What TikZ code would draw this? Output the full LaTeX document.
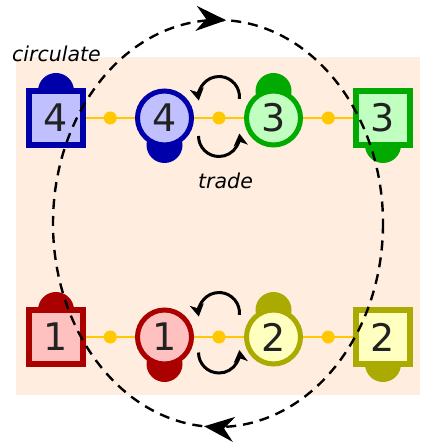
\documentclass[tikz,border=0pt]{standalone}
\usepackage{fontspec}
\setmainfont{DejaVu Sans}
\usetikzlibrary{arrows.meta,decorations.markings,calc}
\definecolor{bgpeach}{HTML}{FFEEDF}
\definecolor{blueb}{HTML}{0000AA}
\definecolor{bluef}{HTML}{C0C0FF}
\definecolor{greenb}{HTML}{00AA00}
\definecolor{greenf}{HTML}{C0FFC0}
\definecolor{redb}{HTML}{AA0000}
\definecolor{redf}{HTML}{FFC0C0}
\definecolor{oliveb}{HTML}{AAAA00}
\definecolor{olivef}{HTML}{FFFFC0}
\definecolor{linegold}{HTML}{FFC800}
\definecolor{digit}{HTML}{222222}
\pgfdeclarelayer{bglayer}
\pgfdeclarelayer{midlayer}
\pgfsetlayers{bglayer,midlayer,main}
\begin{document}
\begin{tikzpicture}[x=1pt,y=1pt,
  sq/.style 2 args={rectangle, draw=#1, fill=#2, line width=6pt, minimum size=54pt, inner sep=0pt,
    font=\fontsize{38}{38}\selectfont, text=digit},
  ci/.style 2 args={circle, draw=#1, fill=#2, line width=5pt, minimum size=54pt, inner sep=0pt,
    font=\fontsize{38}{38}\selectfont, text=digit},
  bump/.style={circle, fill=#1, draw=none, minimum size=36pt, inner sep=0pt},
  dotnode/.style={circle, fill=linegold, draw=none, minimum size=13pt, inner sep=0pt},
  yline/.style={draw=linegold, line width=2.5pt},
  tradearrow/.style={line width=3pt, -{Stealth[length=12pt,width=14pt,inset=3.5pt]}},
  lbl/.style={font=\fontsize{20.5}{20.5}\selectfont\itshape, inner sep=0pt, text=black},
  bigtip/.style={decoration={markings,
      mark=at position 0.262 with {\pgfsetdash{}{0pt}\arrow{Stealth[length=30pt,width=25pt,inset=10pt]}},
      mark=at position 0.757 with {\pgfsetdash{}{0pt}\arrow{Stealth[length=30pt,width=25pt,inset=10pt]}}},
      postaction={decorate}},
  loopline/.style={line width=2.4pt, dash pattern=on 10pt off 7pt}
]
\useasboundingbox (0,0) rectangle (420,-443);
\begin{pgfonlayer}{bglayer}
  \fill[bgpeach] (16,-57) rectangle (420,-395);
\end{pgfonlayer}

% top row
\node[sq={blueb}{bluef}] (s4) at (56,-118) {4};
\node[ci={blueb}{bluef}] (c4) at (164.5,-118) {4};
\node[ci={greenb}{greenf}] (c3) at (273.5,-118) {3};
\node[sq={greenb}{greenf}] (s3) at (383,-118) {3};
% bottom row
\node[sq={redb}{redf}] (s1) at (56,-337) {1};
\node[ci={redb}{redf}] (c1) at (164.5,-337) {1};
\node[ci={oliveb}{olivef}] (c2) at (273.5,-337) {2};
\node[sq={oliveb}{olivef}] (s2) at (383,-337) {2};

\begin{pgfonlayer}{midlayer}
  \node[bump=blueb]  (bs4) at ($(s4)+(0,27)$) {};
  \node[bump=blueb]  (bc4) at ($(c4)+(0,-27)$) {};
  \node[bump=greenb] (bc3) at ($(c3)+(0,27)$) {};
  \node[bump=greenb] (bs3) at ($(s3)+(0,-27)$) {};
  \node[bump=redb]   (bs1) at ($(s1)+(0,27)$) {};
  \node[bump=redb]   (bc1) at ($(c1)+(0,-27)$) {};
  \node[bump=oliveb] (bc2) at ($(c2)+(0,27)$) {};
  \node[bump=oliveb] (bs2) at ($(s2)+(0,-27)$) {};
  \draw[yline] (s4) -- (c4) -- (c3) -- (s3);
  \draw[yline] (s1) -- (c1) -- (c2) -- (s2);
\end{pgfonlayer}

\node[dotnode] (d1) at ($(s4)!0.5!(c4)$) {};
\node[dotnode] (d2) at ($(c4)!0.5!(c3)$) {};
\node[dotnode] (d3) at ($(c3)!0.5!(s3)$) {};
\node[dotnode] (d4) at ($(s1)!0.5!(c1)$) {};
\node[dotnode] (d5) at ($(c1)!0.5!(c2)$) {};
\node[dotnode] (d6) at ($(c2)!0.5!(s2)$) {};

% circulation loop
\coordinate (ec) at (218,-223.5);
\draw[loopline, bigtip] ($(ec)+(165,0)$) arc[start angle=0, end angle=-360, x radius=165, y radius=203.5];

% trade arrows
\coordinate (tu) at (219,-97);
\coordinate (tl) at (219,-136);
\coordinate (bu) at (219,-313);
\coordinate (bl) at (219,-352.5);
\draw[tradearrow] ($(tu)+(-5:20.5)$) arc[start angle=-5, end angle=190, radius=20.5];
\draw[tradearrow] ($(tl)+(180:20.5)$) arc[start angle=180, end angle=367, radius=20.5];
\draw[tradearrow] ($(bu)+(-5:20.5)$) arc[start angle=-5, end angle=190, radius=20.5];
\draw[tradearrow] ($(bl)+(180:20.5)$) arc[start angle=180, end angle=367, radius=20.5];

% labels
\node[lbl, anchor=base west] (circ) at (12,-62) {circulate};
\node[lbl, anchor=base west] (trd) at (198,-188.7) {trade};
\end{tikzpicture}
\end{document}
